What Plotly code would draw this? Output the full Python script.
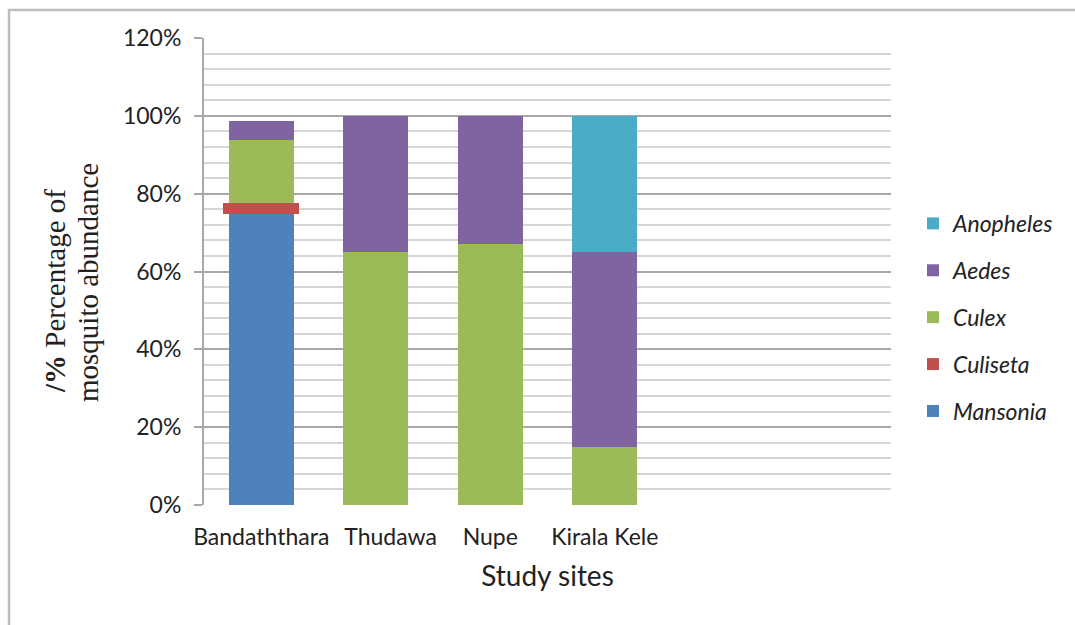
import plotly.graph_objects as go

sites = ["Bandaththara", "Thudawa", "Nupe", "Kirala Kele"]
positions = [0, 1, 2, 3]
label_positions = [0, 1.13, 2, 3]
mansonia = [74.8, 0, 0, 0]
culiseta = [2.8, 0, 0, 0]
culex = [16.2, 65, 67, 15]
aedes = [5.0, 35, 33, 50]
anopheles = [0, 0, 0, 35]

series = [
    ("Mansonia", mansonia, "#4F81BD", 0.57, 5),
    ("Culiseta", culiseta, "#C0504D", 0.665, 4),
    ("Culex", culex, "#9BBB59", 0.57, 3),
    ("Aedes", aedes, "#8064A2", 0.57, 2),
    ("Anopheles", anopheles, "#4BACC6", 0.57, 1),
]

fig = go.Figure()
for name, vals, color, w, rank in series:
    fig.add_trace(go.Bar(
        x=positions, y=vals, name=name, width=w,
        marker=dict(color=color, line=dict(width=0)),
        legendgroup=name, legendrank=rank,
        hoverinfo="skip",
    ))

FONT = "Lato, Liberation Sans, sans-serif"
tick_font = dict(family=FONT, size=23, color="#222222")
serif = "Liberation Serif, Times New Roman, serif"

fig.update_layout(
    barmode="stack",
    width=1075, height=625,
    margin=dict(l=204, r=184, t=38, b=120, autoexpand=False),
    paper_bgcolor="white", plot_bgcolor="white",
    showlegend=True,
    legend=dict(
        x=1.032, xanchor="left", y=0.649, yanchor="top",
        traceorder="grouped", tracegroupgap=14,
        font=dict(family=FONT, size=23, color="#222222", style="italic"),
        bgcolor="rgba(0,0,0,0)",
    ),
    xaxis=dict(
        range=[-0.5, 5.5], tickmode="array", tickvals=label_positions, ticktext=sites,
        showgrid=False, zeroline=False, showline=False, ticks="",
        tickangle=0, automargin=False,
        tickfont=tick_font, ticklabelstandoff=16,
        title=dict(text="Study sites", font=dict(family=FONT, size=28, color="#222222"), standoff=17),
    ),
    yaxis=dict(
        range=[0, 120], dtick=20, ticksuffix="%", automargin=False,
        showgrid=True, gridcolor="#A8A8A8", gridwidth=1.6,
        minor=dict(dtick=4, showgrid=True, gridcolor="#D6D6D6", gridwidth=1.6),
        zeroline=False, showline=True, linecolor="#A8A8A8", linewidth=2,
        ticks="outside", ticklen=8, tickcolor="#A8A8A8", tickwidth=2,
        tickfont=tick_font, ticklabelstandoff=8,
    ),
    shapes=[
        dict(type="rect", xref="paper", yref="paper",
             x0=(9 - 204) / 687, x1=(1090 - 204) / 687,
             y0=(505 - 640) / 467, y1=(505 - 10) / 467,
             line=dict(color="#BDBDBD", width=2.5), fillcolor="rgba(0,0,0,0)", layer="below"),
    ],
    annotations=[
        dict(xref="paper", yref="paper", x=(37 - 204) / 687, y=(505 - 291) / 467,
             text="<b>/%</b> Percentage of", showarrow=False,
             textangle=-90, font=dict(family=serif, size=29, color="#222222")),
        dict(xref="paper", yref="paper", x=(70 - 204) / 687, y=(505 - 283) / 467,
             text="mosquito abundance", showarrow=False,
             textangle=-90, font=dict(family=serif, size=29, color="#222222")),
    ],
)

fig.write_html("out.html")
